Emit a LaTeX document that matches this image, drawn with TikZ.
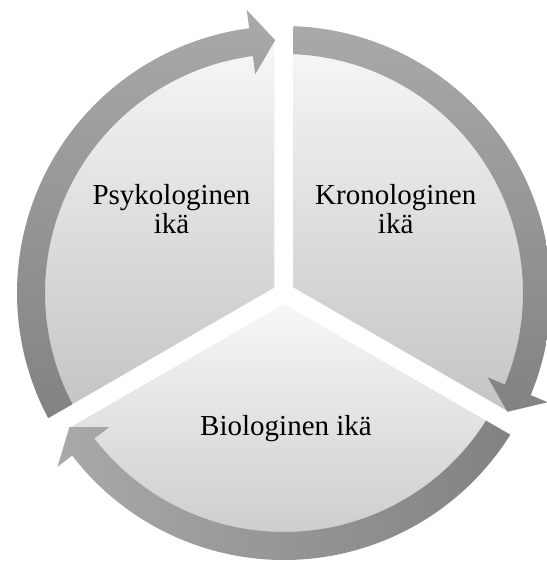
\documentclass[tikz,border=0pt]{standalone}
\usepackage{fontspec}
\setmainfont{Liberation Serif}
\definecolor{sectortop}{HTML}{F7F7F7}
\definecolor{sectorbot}{HTML}{C4C4C4}
\definecolor{ringlight}{HTML}{A9A9A9}
\definecolor{ringdark}{HTML}{828282}

\begin{document}
\begin{tikzpicture}[x=1pt,y=1pt,
  sector/.style={top color=sectortop,bottom color=sectorbot},
  agetext/.style={font=\fontsize{29}{29}\selectfont,align=center,inner sep=0pt}]
\useasboundingbox (0,0) rectangle (546,564);
\coordinate (c) at (284,271);
% pie pieces, pushed out a little along their middle line
\foreach \b in {90,210,330}{
  \shade[sector,shift={(c)},shift={(\b-60:11)}]
    (0,0) -- (\b:248) arc[start angle=\b,end angle=\b-120,radius=248] -- cycle;
}
% ring pieces with arrow heads, clockwise
\foreach \b/\ang in {90/0,210/0,330/90}{
  \shade[top color=ringlight,bottom color=ringdark,shading angle=\ang,shift={(c)}]
    (\b-2.04:267) arc[start angle=\b-2.04,end angle=\b-112.5,radius=267]
    -- (\b-112.5:285.5) -- (\b-118:253) -- (\b-112.5:220.5)
    -- (\b-112.5:239) arc[start angle=\b-112.5,end angle=\b-2.28,radius=239] -- cycle;
}
\node[agetext] (psyk) at (171.5,354.7) {Psykologinen\\ikä};
\node[agetext] (kron) at (395.7,354.7) {Kronologinen\\ikä};
\node[agetext,anchor=base] (bio) at (286,128) {Biologinen ikä};
\end{tikzpicture}
\end{document}
